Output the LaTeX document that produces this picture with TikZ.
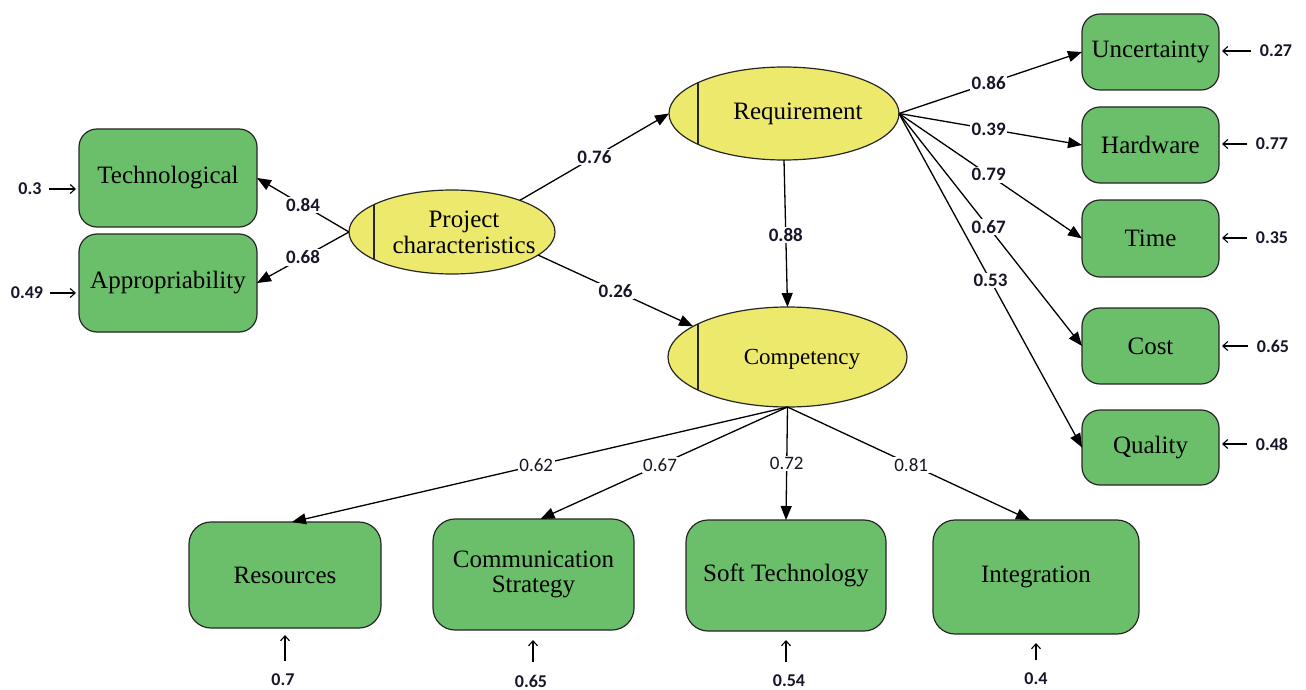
\documentclass[tikz,border=0pt]{standalone}
\usepackage{fontspec}
\setmainfont{Liberation Serif}
\newfontfamily\numfont{Carlito}
\usetikzlibrary{arrows.meta,shapes.geometric}
\definecolor{boxgreen}{RGB}{108,191,106}
\definecolor{latyellow}{RGB}{237,233,108}
\definecolor{numcol}{RGB}{22,22,40}
\begin{document}
\begin{tikzpicture}[x=1pt,y=-1pt,
  obs/.style={draw=black!85, line width=1.2pt, fill=boxgreen, rounded corners=18pt,
    outer sep=0pt, inner sep=2pt, font=\fontsize{25}{27}\selectfont, align=center},
  latent/.style={ellipse, draw=black!85, line width=1.2pt, fill=latyellow, outer sep=0pt,
    inner sep=0pt, path picture={\draw[line width=1.4pt]
      ([xshift=#1]path picture bounding box.south west) --
      ([xshift=#1]path picture bounding box.north west);}},
  lattxt/.style={font=\fontsize{25}{26}\selectfont, align=center, inner sep=0pt},
  conn/.style={line width=1.3pt, -{Triangle[length=14pt,width=11pt]}},
  coef/.style={fill=white, inner sep=1.5pt, text=numcol,
    font=\numfont\bfseries\fontsize{19}{20}\selectfont},
  coefr/.style={fill=white, inner sep=1.5pt, text=numcol,
    font=\numfont\fontsize{19}{20}\selectfont},
  resid/.style={text=numcol, inner sep=1pt, font=\numfont\bfseries\fontsize{18}{20}\selectfont},
  resarr/.style={line width=1.1pt, -{Straight Barb[length=5pt,width=9pt]}}
]
\useasboundingbox (0,0) rectangle (1306,690);

% latent variables
\node[latent=25pt, minimum width=206pt, minimum height=84pt] (pc) at (452,232) {};
\node[lattxt] (pct) at (464,232) {Project\\characteristics};
\node[latent=29pt, minimum width=230pt, minimum height=93pt] (req) at (784,113.5) {};
\node[lattxt] (reqt) at (798,114) {Requirement};
\node[latent=30pt, minimum width=239pt, minimum height=100pt] (comp) at (787.5,357) {};
\node[lattxt, font=\fontsize{23}{25}\selectfont] (compt) at (802,359) {Competency};

% left indicators
\node[obs, minimum width=178pt, minimum height=98pt] (tech) at (168,178) {Technological};
\node[obs, minimum width=178pt, minimum height=98pt] (appr) at (168,283) {Appropriability};

% right indicators
\node[obs, minimum width=137pt, minimum height=76pt] (unc) at (1150.5,52) {Uncertainty};
\node[obs, minimum width=137pt, minimum height=76pt] (hard) at (1150.5,145) {Hardware};
\node[obs, minimum width=137pt, minimum height=77pt] (time) at (1150.5,238.5) {Time};
\node[obs, minimum width=137pt, minimum height=76pt] (cost) at (1150.5,346) {Cost};
\node[obs, minimum width=137pt, minimum height=75pt] (qual) at (1150.5,447.5) {Quality};

% bottom indicators
\node[obs, rounded corners=22pt, minimum width=192pt, minimum height=106pt] (res) at (285,575) {Resources};
\node[obs, rounded corners=22pt, minimum width=201pt, minimum height=111pt] (comm) at (533.5,574.5) {Communication\\[-2pt]Strategy};
\node[obs, rounded corners=22pt, minimum width=200pt, minimum height=111pt] (soft) at (786,575.5) {Soft Technology};
\node[obs, rounded corners=22pt, minimum width=206pt, minimum height=114pt] (integ) at (1036,577) {Integration};

% structural paths
\draw[conn] (pc.west) -- (tech.east) node[coef, midway] {0.84};
\draw[conn] (pc.west) -- (appr.east) node[coef, midway] {0.68};
\draw[conn] (pc.25) -- (req.west) node[coef, midway] {0.76};
\draw[conn] (pc.-15) -- (comp.162) node[coef, midway] {0.26};
\draw[conn] (req.south) -- (comp.north) node[coef, pos=0.51] {0.88};

\draw[conn] (req.east) -- (unc.west) node[coef, pos=0.49] {0.86};
\draw[conn] (req.east) -- (hard.west) node[coef, pos=0.49] {0.39};
\draw[conn] (req.east) -- (time.west) node[coef, pos=0.49] {0.79};
\draw[conn] (req.east) -- (cost.west) node[coef, pos=0.49] {0.67};
\draw[conn] (req.east) -- (qual.west) node[coef, pos=0.5] {0.53};

\draw[conn] (comp.south) -- ([xshift=7pt]res.north) node[coefr, pos=0.507] {0.62};
\draw[conn] (comp.south) -- ([xshift=7pt]comm.north) node[coefr, pos=0.516] {0.67};
\draw[conn] (comp.south) -- (soft.north) node[coefr, pos=0.5] {0.72};
\draw[conn] (comp.south) -- ([xshift=-6pt]integ.north) node[coefr, pos=0.51] {0.81};

% residuals left
\node[resid] (e1) at (30,189) {0.3};
\node[resid] (e2) at (27,293) {0.49};
\draw[resarr, shorten <=6pt, shorten >=3pt] (e1.east) -- (e1.east -| tech.west);
\draw[resarr, shorten <=6pt, shorten >=3pt] (e2.east) -- (e2.east -| appr.west);

% residuals right
\node[resid] (e3) at (1276,51) {0.27};
\node[resid] (e4) at (1272,144) {0.77};
\node[resid] (e5) at (1272,238) {0.35};
\node[resid] (e6) at (1273,346) {0.65};
\node[resid] (e7) at (1272,444) {0.48};
\foreach \e/\b in {e3/unc,e4/hard,e5/time,e6/cost,e7/qual}
  \draw[resarr, shorten <=8pt, shorten >=3pt] (\e.west) -- (\e.west -| \b.east);

% residuals bottom
\node[resid] (e8) at (283,680) {0.7};
\node[resid] (e9) at (531,681) {0.65};
\node[resid] (e10) at (789,681) {0.54};
\node[resid] (e11) at (1036,679) {0.4};
\draw[resarr, shorten <=12pt, shorten >=7pt] ([xshift=2pt]e8.north) -- ([xshift=2pt]e8.north |- res.south);
\draw[resarr, shorten <=12pt, shorten >=10pt] ([xshift=2pt]e9.north) -- ([xshift=2pt]e9.north |- comm.south);
\draw[resarr, shorten <=12pt, shorten >=9pt] ([xshift=-3pt]e10.north) -- ([xshift=-3pt]e10.north |- soft.south);
\draw[resarr, shorten <=12pt, shorten >=9pt] (e11.north) -- (e11.north |- integ.south);
\end{tikzpicture}
\end{document}
